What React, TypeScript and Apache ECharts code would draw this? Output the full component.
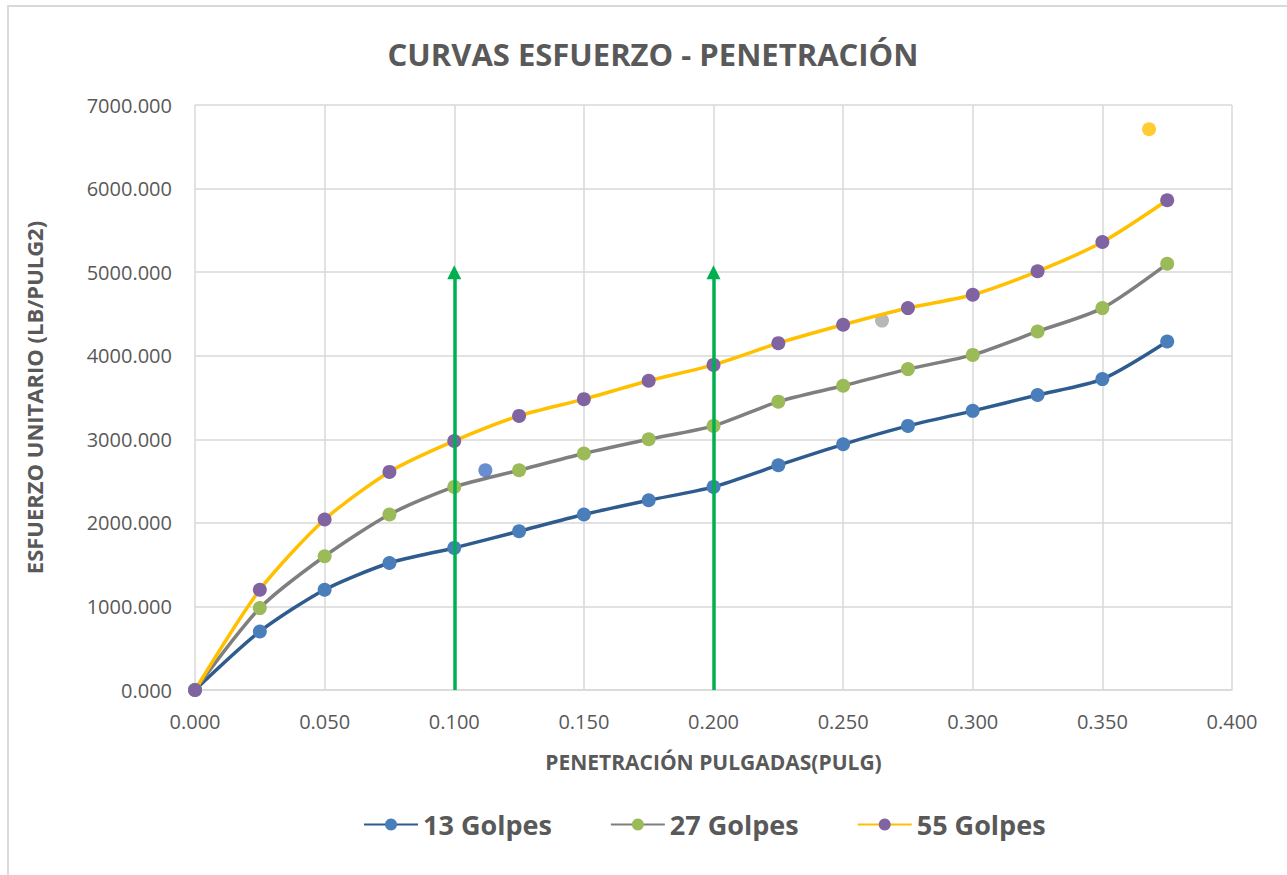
import React, { useEffect, useRef } from "react";
import * as echarts from "echarts";

const penetration = [0, 0.025, 0.05, 0.075, 0.1, 0.125, 0.15, 0.175, 0.2, 0.225, 0.25, 0.275, 0.3, 0.325, 0.35, 0.375];
const golpes13 = [0, 700, 1200, 1520, 1700, 1900, 2100, 2270, 2430, 2690, 2940, 3160, 3340, 3530, 3720, 4170];
const golpes27 = [0, 980, 1600, 2100, 2430, 2630, 2830, 3000, 3160, 3450, 3640, 3840, 4010, 4290, 4570, 5100];
const golpes55 = [0, 1200, 2040, 2610, 2980, 3280, 3480, 3700, 3890, 4150, 4370, 4570, 4730, 5010, 5360, 5860];
const strayBlue = [[0.112, 2630]];
const strayGray = [[0.265, 4420]];
const strayOrange = [[0.368, 6710]];
const arrowX = [0.1, 0.2];
const arrowTop = 5000;
const xTicks = { min: 0, max: 0.4, interval: 0.05 };
const yTicks = { min: 0, max: 7000, interval: 1000 };

const FONT = "'Open Sans', 'Liberation Sans', sans-serif";

export default function App() {
  const ref = useRef<HTMLDivElement>(null);
  useEffect(() => {
    if (!ref.current) return;
    const chart = echarts.init(ref.current, null, { renderer: "svg" });
    const pairs = (ys: number[]) => penetration.map((x, i) => [x, ys[i]]);
    const lineSeries = (name: string, ys: number[], lineColor: string, markColor: string) => ({
      name,
      type: "line",
      data: pairs(ys),
      smooth: 0.25,
      symbol: "circle",
      symbolSize: 14,
      lineStyle: { color: lineColor, width: 3.5 },
      itemStyle: { color: markColor },
      z: 3,
    });
    chart.setOption({
      animation: false,
      backgroundColor: "#ffffff",
      title: {
        text: "CURVAS ESFUERZO - PENETRACIÓN",
        left: 648,
        textAlign: "center",
        top: 33,
        textStyle: { fontFamily: FONT, fontSize: 31, fontWeight: "bold", color: "#595959" },
      },
      graphic: [
        {
          type: "rect",
          shape: { x: 8, y: 6, width: 1400, height: 1000 },
          style: { fill: "none", stroke: "#d9d9d9", lineWidth: 2 },
          silent: true,
        },
      ],
      grid: { left: 195, right: 55, top: 105, bottom: 185 },
      legend: {
        top: 806,
        left: 358,
        data: ["13 Golpes", "27 Golpes", "55 Golpes"],
        itemWidth: 54,
        itemHeight: 15,
        itemGap: 58,
        textStyle: { fontFamily: FONT, fontSize: 27, fontWeight: "bold", color: "#595959" },
      },
      xAxis: {
        type: "value",
        min: xTicks.min,
        max: xTicks.max,
        interval: xTicks.interval,
        name: "PENETRACIÓN PULGADAS(PULG)",
        nameLocation: "middle",
        nameGap: 61,
        nameTextStyle: { fontFamily: FONT, fontSize: 21, fontWeight: "bold", color: "#595959" },
        axisLine: { show: true, lineStyle: { color: "#d9d9d9", width: 1.5 } },
        axisTick: { show: false },
        splitLine: { show: true, lineStyle: { color: "#d9d9d9", width: 1.5 } },
        axisLabel: {
          fontFamily: FONT,
          fontSize: 20,
          color: "#595959",
          margin: 21,
          formatter: (v: number) => v.toFixed(3),
        },
      },
      yAxis: {
        type: "value",
        min: yTicks.min,
        max: yTicks.max,
        interval: yTicks.interval,
        name: "ESFUERZO UNITARIO (LB/PULG2)",
        nameLocation: "middle",
        nameGap: 150,
        nameRotate: 90,
        nameTextStyle: { fontFamily: FONT, fontSize: 22, fontWeight: "bold", color: "#595959" },
        axisLine: { show: false },
        axisTick: { show: false },
        splitLine: { show: true, lineStyle: { color: "#d9d9d9", width: 1.5 } },
        axisLabel: {
          fontFamily: FONT,
          fontSize: 20,
          color: "#595959",
          margin: 23,
          formatter: (v: number) => v.toFixed(3),
        },
      },
      series: [
        lineSeries("13 Golpes", golpes13, "#2F5C8F", "#4A7EBB"),
        lineSeries("27 Golpes", golpes27, "#7F7F7F", "#9BBB59"),
        {
          ...lineSeries("55 Golpes", golpes55, "#FFC000", "#8064A2"),
          markLine: {
            silent: true,
            symbol: ["none", "triangle"],
            symbolSize: [14, 14],
            label: { show: false },
            lineStyle: { color: "#00B050", width: 3.5, type: "solid" },
            data: arrowX.map((x) => [
              { coord: [x, 0] },
              { coord: [x, arrowTop] },
            ]),
          },
        },
        { name: "s1", type: "scatter", data: strayBlue, symbolSize: 14, itemStyle: { color: "#4472C4" }, z: 4 },
        { name: "s2", type: "scatter", data: strayGray, symbolSize: 14, itemStyle: { color: "#A5A5A5" }, z: 2 },
        { name: "s3", type: "scatter", data: strayOrange, symbolSize: 14, itemStyle: { color: "#FFC000" }, z: 4 },
      ],
    });
    return () => chart.dispose();
  }, []);
  return (
    <div
      ref={ref}
      style={{ position: "absolute", left: 0, top: 0, width: 1287, height: 875, background: "#fff" }}
    />
  );
}
